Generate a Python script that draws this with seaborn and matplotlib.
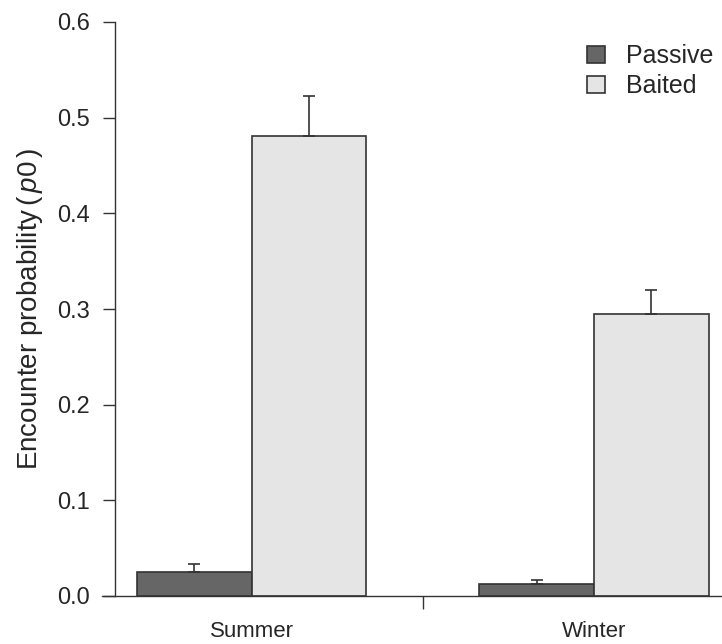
import matplotlib
matplotlib.use("Agg")
import matplotlib.pyplot as plt
import seaborn as sns
import pandas as pd
from matplotlib.patches import Patch

# values
seasons = ["Summer", "Winter"]
methods = ["Passive", "Baited"]
passive = [0.025, 0.013]
baited = [0.481, 0.295]
passive_upper = [0.033, 0.017]
baited_upper = [0.523, 0.320]

colors = {"Passive": "#666666", "Baited": "#e5e5e5"}
edge = "#333333"

df = pd.DataFrame({
    "season": seasons * 2,
    "method": ["Passive"] * 2 + ["Baited"] * 2,
    "p0": passive + baited,
    "upper": passive_upper + baited_upper,
})

sns.set_style("white")
plt.rcParams["font.family"] = ["Liberation Sans", "DejaVu Sans"]
plt.rcParams["mathtext.fontset"] = "custom"
plt.rcParams["mathtext.rm"] = "Liberation Sans"
plt.rcParams["mathtext.it"] = "Liberation Sans:italic"

fig = plt.figure(figsize=(7.22, 6.44), dpi=100)
W, H = 722, 644
ax = fig.add_axes([102 / W, (H - 596) / H, 620 / W, (596 - 22) / H])

width = 0.669
sns.barplot(data=df, x="season", y="p0", hue="method", order=seasons,
            hue_order=methods, palette=colors, width=width, dodge=True,
            edgecolor=edge, linewidth=1.2, errorbar=None, legend=False, ax=ax)

# upward-only error bars at the bar centres
for bar_group, (vals, ups) in zip(ax.containers, [(passive, passive_upper),
                                                  (baited, baited_upper)]):
    xs = [b.get_x() + b.get_width() / 2 for b in bar_group]
    err = [u - v for u, v in zip(ups, vals)]
    ax.errorbar(xs, vals, yerr=[[0] * len(vals), err], fmt="none",
                ecolor=edge, elinewidth=1.2, capsize=4.5, capthick=1.2)

ax.set_ylim(0, 0.6)
ax.set_xlim(-0.4365, 1.3737)
ax.set_yticks([0, 0.1, 0.2, 0.3, 0.4, 0.5, 0.6])
ax.set_yticklabels(["0.0", "0.1", "0.2", "0.3", "0.4", "0.5", "0.6"])

# single major tick between the groups, labels on invisible minor ticks
ax.set_xticks([0.5])
ax.set_xticklabels([""])
ax.set_xticks([0, 1], minor=True)
ax.set_xticklabels(seasons, minor=True)
ax.tick_params(axis="x", which="major", direction="out", length=9, width=1,
               color=edge, bottom=True)
ax.tick_params(axis="x", which="minor", length=0, pad=18, labelsize=16)
ax.tick_params(axis="y", direction="out", length=9, width=1, color=edge,
               left=True, pad=9, labelsize=17)

for s in ["top", "right"]:
    ax.spines[s].set_visible(False)
ax.spines["left"].set_position(("axes", 13 / 620))
ax.spines["left"].set_color(edge)
ax.spines["bottom"].set_color(edge)
ax.spines["left"].set_linewidth(1)
ax.spines["bottom"].set_linewidth(1)

ax.set_xlabel("")
ax.set_ylabel(r"Encounter probability$\,$($\,\mathit{p0}\,$)", fontsize=20, labelpad=9)

handles = [Patch(facecolor=colors[m], edgecolor=edge, linewidth=1.2, label=m)
           for m in methods]
fig.legend(handles=handles, loc="upper left", bbox_to_anchor=(587 / W, 1 - 44 / H),
           frameon=False, fontsize=18, handlelength=0.7, handleheight=0.7,
           handletextpad=0.85, labelspacing=0.25, borderaxespad=0, borderpad=0)

fig.savefig("out.png", dpi=100)
